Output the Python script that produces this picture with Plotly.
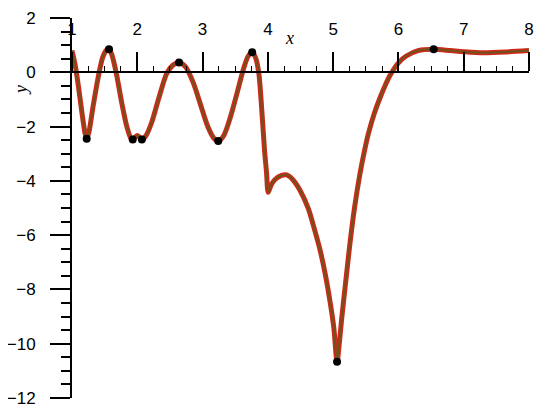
import plotly.graph_objects as go

# courbe
x_vals = [1.00, 1.05, 1.10, 1.15, 1.20, 1.225, 1.26, 1.32, 1.40, 1.47, 1.53, 1.567,
          1.61, 1.68, 1.76, 1.84, 1.90, 1.93, 1.97, 2.00, 2.03, 2.07, 2.13, 2.22,
          2.33, 2.45, 2.54, 2.64, 2.74, 2.86, 2.97, 3.08, 3.17, 3.24, 3.32, 3.42,
          3.53, 3.63, 3.70, 3.76, 3.81, 3.86, 3.91, 3.95, 3.98, 4.005, 4.05, 4.11,
          4.21, 4.29, 4.38, 4.50, 4.62, 4.71, 4.80, 4.88, 4.95, 5.01, 5.06, 5.10,
          5.13, 5.20, 5.26, 5.33, 5.41, 5.49, 5.54, 5.63, 5.72, 5.80, 5.87, 6.00,
          6.12, 6.30, 6.54, 6.80, 7.00, 7.30, 7.66, 8.00]
y_vals = [0.80, 0.25, -0.55, -1.45, -2.25, -2.45, -2.20, -1.30, -0.20, 0.55, 0.82, 0.85,
          0.65, -0.05, -1.10, -2.00, -2.42, -2.48, -2.38, -2.33, -2.38, -2.48, -2.35, -1.85,
          -0.95, -0.05, 0.25, 0.36, 0.20, -0.40, -1.20, -2.00, -2.42, -2.53, -2.35, -1.70,
          -0.75, 0.15, 0.60, 0.74, 0.55, 0.00, -1.50, -2.90, -3.70, -4.42, -4.15, -3.95,
          -3.80, -3.78, -3.95, -4.38, -5.02, -5.75, -6.55, -7.45, -8.41, -9.40, -10.66, -9.85,
          -9.10, -7.55, -6.25, -4.95, -3.75, -2.78, -2.26, -1.52, -0.93, -0.47, -0.12, 0.35,
          0.60, 0.80, 0.85, 0.80, 0.76, 0.72, 0.75, 0.80]

# extrema
mx = [1.225, 1.567, 1.93, 2.07, 2.64, 3.24, 3.76, 5.06, 6.54]
my = [-2.45, 0.85, -2.48, -2.48, 0.36, -2.53, 0.74, -10.66, 0.85]

fig = go.Figure()

fig.add_trace(go.Scatter(x=x_vals, y=y_vals, mode="lines",
                         line=dict(color="#d0281c", width=5, shape="spline", smoothing=0.8)))
fig.add_trace(go.Scatter(x=x_vals, y=y_vals, mode="lines",
                         line=dict(color="#6e5418", width=2, shape="spline", smoothing=0.8)))
fig.add_trace(go.Scatter(x=mx, y=my, mode="markers",
                         marker=dict(color="black", size=8)))

# axe x a y=0
y0_pos = (0 - (-12)) / (2 - (-12))

# la page ajoute 8 px de marge (body), on compense
fig.update_layout(
    width=550,
    height=415,
    showlegend=False,
    plot_bgcolor="white",
    paper_bgcolor="white",
    margin=dict(l=64, r=29, t=10, b=25, autoexpand=False),
    font=dict(family="Liberation Sans, Arial", size=17, color="black"),
    xaxis=dict(
        range=[1, 8],
        anchor="free",
        position=y0_pos,
        side="top",
        automargin=False,
        showline=True,
        linecolor="black",
        linewidth=2,
        ticks="outside",
        ticklen=19,
        tickwidth=2,
        tickcolor="black",
        dtick=1,
        ticklabelstandoff=10,
        minor=dict(ticks="outside", ticklen=5, tickwidth=1, dtick=0.25, tickcolor="black"),
        showgrid=False,
        zeroline=False,
    ),
    yaxis=dict(
        range=[-12, 2],
        automargin=False,
        showline=True,
        linecolor="black",
        linewidth=2,
        ticks="outside",
        ticklen=20,
        tickwidth=2,
        tickcolor="black",
        dtick=2,
        ticklabelstandoff=11,
        minor=dict(ticks="outside", ticklen=9, tickwidth=2, dtick=0.5, tickcolor="black"),
        showgrid=False,
        zeroline=False,
    ),
)

fig.add_annotation(x=4.33, y=1.28, xref="x", yref="y", text="<i>x</i>", showarrow=False,
                   font=dict(family="Liberation Serif, Times New Roman", size=18))
fig.add_annotation(x=(21 - 72) / (529 - 72), y=(398 - 90) / (398 - 18),
                   xref="paper", yref="paper", text="<i>y</i>", showarrow=False,
                   xanchor="center", yanchor="middle", borderpad=0,
                   textangle=-90, font=dict(family="Liberation Serif, Times New Roman", size=18))

fig.write_html("out.html")
